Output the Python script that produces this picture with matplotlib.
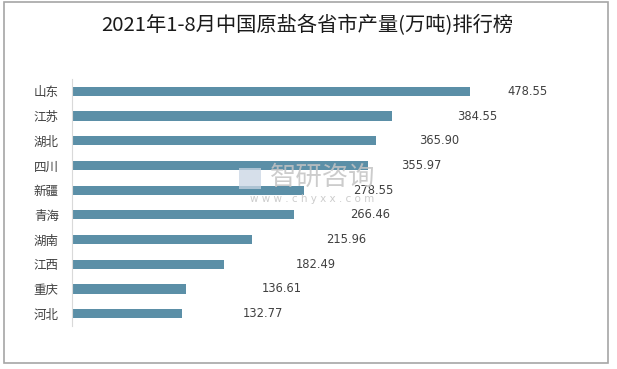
import matplotlib
matplotlib.use("Agg")
import matplotlib.pyplot as plt
from matplotlib.patches import Rectangle

plt.rcParams["font.family"] = ["Noto Sans CJK SC", "DejaVu Sans"]

# ── data ────────────────────────────────────────────────────────────────
provinces = ["山东", "江苏", "湖北", "四川", "新疆", "青海", "湖南", "江西", "重庆", "河北"]
output = [478.55, 384.55, 365.90, 355.97, 278.55, 266.46, 215.96, 182.49, 136.61, 132.77]
# label offsets past the bar end (labels were dragged around in the original)
label_dx = [45, 78, 51, 39, 59, 68, 90, 87, 91, 73]

W, H = 617, 369
fig = plt.figure(figsize=(W / 100, H / 100), dpi=100)

# outer grey frame
fig.patches.append(Rectangle((4 / W, 1 - 363 / H), 604 / W, 361 / H,
                             transform=fig.transFigure, fill=False,
                             edgecolor="#a6a6a6", linewidth=1.2))

fig.text(307 / W, 1 - 26 / H, "2021年1-8月中国原盐各省市产量(万吨)排行榜",
         ha="center", va="center", fontsize=14.6, color="#1a1a1a")

# axes placed in pixels: x 72→552, y 79→326
ax = fig.add_axes([72 / W, 1 - 326 / H, 480 / W, 247 / H])
y = list(range(len(provinces)))
ax.barh(y, output, height=0.37, color="#5b8fa7")
ax.set_xlim(0, 480 / 0.832)
ax.set_ylim(len(provinces) - 0.5, -0.5)

for yi, v, dx in zip(y, output, label_dx):
    ax.text(v + dx, yi, f"{v:.2f}", ha="left", va="center",
            fontsize=8.3, color="#404040", family="DejaVu Sans")

ax.set_yticks(y)
ax.set_yticklabels(provinces, fontsize=9, color="#404040")
ax.tick_params(axis="y", length=0, pad=9.5)
ax.set_xticks([])
for side in ("top", "right", "bottom"):
    ax.spines[side].set_visible(False)
ax.spines["left"].set_color("#d9d9d9")

# faint watermark (logo block + name + url)
fig.patches.append(Rectangle((239 / W, 1 - 189 / H), 22 / W, 21 / H,
                             transform=fig.transFigure, facecolor="#c9d5e3",
                             edgecolor="none", alpha=0.75))
fig.text(323 / W, 1 - 177 / H, "智研咨询", ha="center", va="center",
         fontsize=19, color="#c4c4c4", alpha=0.85)
fig.text(312 / W, 1 - 199 / H, "w w w . c h y x x . c o m", ha="center",
         va="center", fontsize=7.5, color="#c4c4c4", alpha=0.85,
         family="DejaVu Sans")

fig.savefig("out.png", dpi=100)
